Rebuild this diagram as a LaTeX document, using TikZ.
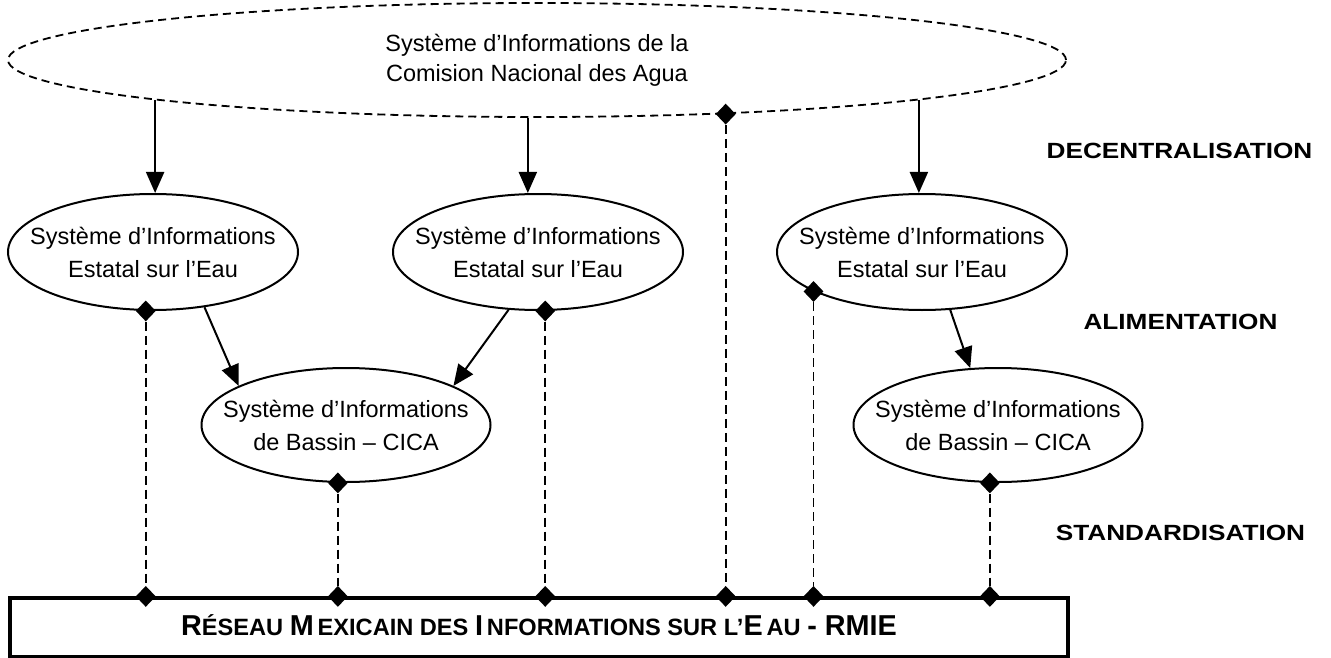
\documentclass[tikz,border=0pt]{standalone}
\usepackage{fontspec}
\setmainfont{Liberation Sans}
\newfontfamily\widefont[FakeStretch = 1.19]{Liberation Sans}
\usetikzlibrary{shapes.geometric, arrows.meta}

\newcommand{\fullcap}[1]{{\fontsize{28.8}{30}\selectfont #1}}

\tikzset{
	sys/.style = {ellipse, draw, line width = 2pt, inner xsep = -25pt, inner ysep = 0pt, align = center, font = \fontsize{23.5}{33}\selectfont},
	dmd/.style = {diamond, fill, inner sep = 0pt, minimum width = 20pt, minimum height = 21pt},
	link/.style = {line width = 1.6pt, dash pattern = on 9pt off 5pt},
	feed/.style = {line width = 2pt},
	phase/.style = {font = \widefont\fontsize{22}{26}\selectfont\bfseries}
}

\begin{document}
\begin{tikzpicture}[x = 1pt, y = -1pt, > = {Triangle[length = 21pt, width = 18pt]}]

	\useasboundingbox (0, 0) rectangle (1331, 658);

	% National system
	
	\node [sys, line width = 1.8pt, dash pattern = on 8pt off 5pt, minimum width = 1058pt, minimum height = 114pt, font = \fontsize{23.5}{30}\selectfont] (cna) at (537, 60) {Système d’Informations de la\\Comision Nacional des Agua};
	
	% State and basin systems
	
	\foreach \n/\x in {est1/153, est2/538, est3/922}
		\node [sys, minimum width = 290pt, minimum height = 116pt] (\n) at (\x, 252) {Système d’Informations\\Estatal sur l’Eau};
		
	\foreach \n/\x in {bas1/346, bas2/998}
		\node [sys, minimum width = 289pt, minimum height = 114pt] (\n) at (\x, 425) {Système d’Informations\\de Bassin – CICA};
		
	% Network
	
	\node [draw, line width = 3.2pt, minimum width = 1058pt, minimum height = 59pt, text height = 17pt, text depth = 2pt, font = \fontsize{23.6}{28}\selectfont\bfseries] (rmie) at (539, 627.5) {\fullcap{R}ÉSEAU \fullcap{M}\,EXICAIN DES \fullcap{I}\,NFORMATIONS SUR L’\fullcap{E}\,AU \fullcap{- RMIE}};
	
	% Phases
	
	\node [phase] (dec) at (1179.5, 151) {DECENTRALISATION};
	\node [phase] (ali) at (1180.5, 322) {ALIMENTATION};
	\node [phase] (std) at (1180.5, 533) {STANDARDISATION};
	
	% Decentralisation and feeding arrows
	
	\draw [feed, ->] (cna.186) -- (cna.186 |- est1.north);
	\draw [feed, ->] (cna.261) -- (cna.261 |- est2.north);
	\draw [feed, ->] (cna.354) -- (cna.354 |- est3.north);
	
	\foreach \s/\t in {est1.313/bas1.160, est2.243/bas1.20, est3.296/bas2.116}
		\draw [feed, ->] (\s) -- (\t);
		
	% Standardisation links
	
	\foreach \n/\a in {est1/263, est2/277, cna/344, est3/200, bas1/262, bas2/262} {
		\node [dmd] (k\n) at (\n.\a) {};
		\node [dmd] (r\n) at (k\n |- rmie.north) {};
		\draw [link] (k\n) -- (r\n);
	}
	
\end{tikzpicture}
\end{document}
